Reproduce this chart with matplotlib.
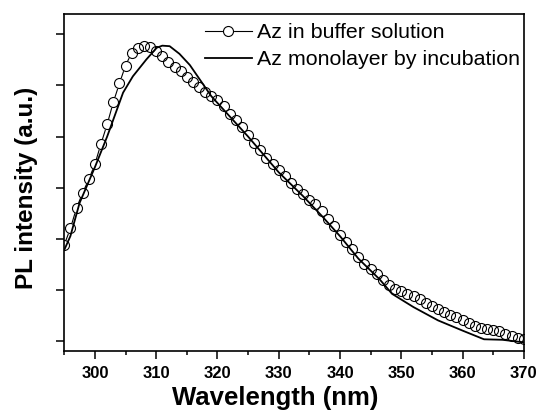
import matplotlib
matplotlib.use("Agg")
import matplotlib.pyplot as plt
from matplotlib.ticker import MultipleLocator

plt.rcParams['font.family'] = ['Liberation Sans', 'DejaVu Sans']

# Az in buffer solution (open circles, 1 nm steps)
wl_buffer = list(range(295, 371))
pl_buffer = [1.88, 2.20, 2.60, 2.90, 3.16, 3.46, 3.86, 4.24, 4.67, 5.04,
             5.39, 5.64, 5.74, 5.78, 5.76, 5.67, 5.57, 5.46, 5.36, 5.28,
             5.17, 5.06, 4.98, 4.88, 4.80, 4.72, 4.60, 4.45, 4.33, 4.18,
             4.03, 3.88, 3.74, 3.58, 3.46, 3.34, 3.22, 3.10, 2.97, 2.87,
             2.76, 2.67, 2.55, 2.39, 2.24, 2.08, 1.93, 1.79, 1.65, 1.50,
             1.41, 1.31, 1.20, 1.10, 1.02, 0.97, 0.92, 0.87, 0.81, 0.75,
             0.69, 0.63, 0.57, 0.51, 0.46, 0.40, 0.35, 0.29, 0.25, 0.23,
             0.22, 0.19, 0.13, 0.09, 0.06, 0.03]

# Az monolayer by incubation (solid line)
wl_mono = [295, 296, 297.5, 300, 302, 304.6, 306.2, 308.4, 310.1, 311,
           312.2, 313.8, 315.5, 319, 325, 330, 334, 337, 340, 343,
           346.5, 348.5, 352, 356, 360, 363.5, 366.5, 370]
pl_mono = [1.78, 2.05, 2.70, 3.40, 4.00, 4.86, 5.18, 5.51, 5.74, 5.78,
           5.77, 5.62, 5.40, 4.79, 4.00, 3.30, 2.83, 2.45, 2.05, 1.61,
           1.20, 0.92, 0.66, 0.40, 0.20, 0.03, 0.02, -0.03]

fig = plt.figure(figsize=(5.4, 4.12), dpi=100)
ax = fig.add_axes([0.119, 0.148, 0.851, 0.818])

# connecting line, hidden inside the circles by white markers
l_back, = ax.plot(wl_buffer, pl_buffer, '-', color='black', lw=0.8,
                  marker='o', ms=7.2, mfc='white', mec='white', mew=0.8, zorder=1)
l_mono, = ax.plot(wl_mono, pl_mono, '-', color='black', lw=1.3, zorder=2)
l_circ, = ax.plot(wl_buffer, pl_buffer, 'o', ms=7.2, mfc='none', mec='black',
                  mew=0.8, zorder=3)

ax.set_xlim(295, 370)
ax.set_ylim(-0.2, 6.4)
ax.xaxis.set_major_locator(MultipleLocator(10))
ax.xaxis.set_minor_locator(MultipleLocator(5))
ax.set_yticks(range(0, 7))
ax.set_yticklabels([])
ax.tick_params(axis='x', which='major', direction='out', length=6, width=1.1,
               labelsize=12, pad=5)
ax.tick_params(axis='x', which='minor', direction='out', length=3, width=1.1)
ax.tick_params(axis='y', direction='out', length=6, width=1.1)
for lab in ax.get_xticklabels():
    lab.set_fontweight('bold')
for sp in ax.spines.values():
    sp.set_linewidth(1.2)

ax.set_xlabel('Wavelength (nm)', fontsize=18.5, fontweight='bold')
ax.xaxis.set_label_coords(0.46, -0.105, transform=ax.transAxes)
ax.xaxis.label.set_va('top')
ax.set_ylabel('PL intensity (a.u.)', fontsize=17.5, fontweight='bold')
ax.yaxis.set_label_coords(-0.057, 0.485)

ax.legend([(l_back, l_circ), l_mono],
          ['Az in buffer solution', 'Az monolayer by incubation'],
          loc='upper right', bbox_to_anchor=(1.0, 0.985), frameon=False,
          fontsize=15.4, numpoints=1, handlelength=2.2, handletextpad=0.23,
          labelspacing=0.36, borderaxespad=0.0, borderpad=0.2)

fig.savefig('out.png', dpi=100)
